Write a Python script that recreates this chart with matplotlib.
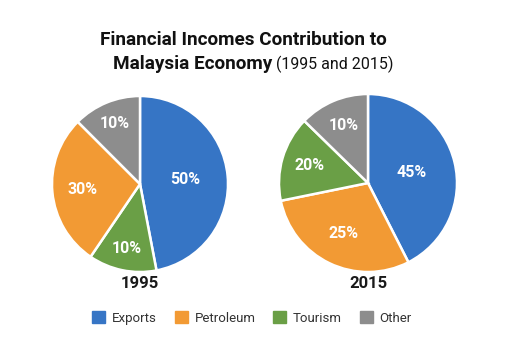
import numpy as np
import matplotlib.pyplot as plt

plt.rcParams['font.family'] = ['Roboto', 'DejaVu Sans']

categories = ["Exports", "Petroleum", "Tourism", "Other"]
colors = ["#3675c5", "#f29a34", "#6a9f46", "#8d8d8d"]

# wedge sizes as drawn in the picture (clockwise from top), with printed labels
order_1995 = ["Exports", "Tourism", "Petroleum", "Other"]
sizes_1995 = [47.0, 12.5, 28.0, 12.5]
labels_1995 = ["50%", "10%", "30%", "10%"]

order_2015 = ["Exports", "Petroleum", "Tourism", "Other"]
sizes_2015 = [42.5, 29.3, 15.5, 12.7]
labels_2015 = ["45%", "25%", "20%", "10%"]

W, H = 512, 341
fig = plt.figure(figsize=(W / 100, H / 100), dpi=100)


def draw_pie(cx, cy, r, order, sizes, labels, dists, year):
    ax = fig.add_axes([(cx - r) / W, 1 - (cy + r) / H, 2 * r / W, 2 * r / H])
    cols = [colors[categories.index(c)] for c in order]
    wedges, _ = ax.pie(sizes, colors=cols, startangle=90, counterclock=False,
                       wedgeprops=dict(edgecolor="white", linewidth=1.8))
    for w, lab, d in zip(wedges, labels, dists):
        ang = np.deg2rad((w.theta1 + w.theta2) / 2)
        ax.text(d * np.cos(ang), d * np.sin(ang), lab, ha="center", va="center",
                color="white", fontsize=11.5, fontweight="bold")
    ax.set_xlim(-1, 1)
    ax.set_ylim(-1, 1)
    ax.axis("off")
    fig.text(cx / W, 1 - 284 / H, year, ha="center", va="center",
             fontsize=12, fontweight="bold", color="#1a1a1a")


draw_pie(140, 184, 88, order_1995, sizes_1995, labels_1995, [0.52, 0.75, 0.65, 0.75], "1995")
draw_pie(368, 183, 89, order_2015, sizes_2015, labels_2015, [0.5, 0.63, 0.69, 0.7], "2015")

# title
fig.text(243 / W, 1 - 40 / H, "Financial Incomes Contribution to", ha="center", va="center",
         fontsize=13.6, fontweight="bold", color="#111111")
fig.text(272 / W, 1 - 64 / H, "Malaysia Economy", ha="right", va="center",
         fontsize=13.6, fontweight="bold", color="#111111")
fig.text(276 / W, 1 - 64 / H, "(1995 and 2015)", ha="left", va="center",
         fontsize=11.5, color="#111111")

# legend
handles = [plt.Rectangle((0, 0), 1, 1, color=c) for c in colors]
fig.legend(handles, categories, loc="center", bbox_to_anchor=(252 / W, 1 - 318 / H),
           ncol=4, frameon=False, fontsize=9.5, handlelength=1.0, handleheight=1.0,
           columnspacing=1.35, handletextpad=0.5, labelcolor="#333333")

fig.savefig("out.png", dpi=100)
